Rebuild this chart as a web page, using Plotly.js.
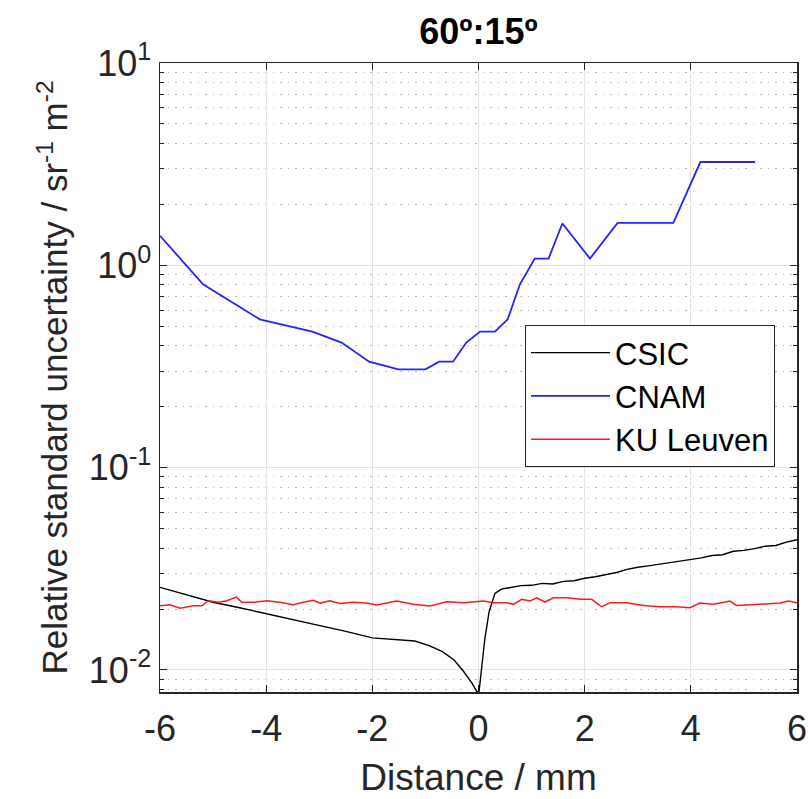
<!DOCTYPE html>
<html><head><meta charset="utf-8">
<script src="https://cdn.plot.ly/plotly-3.0.1.min.js"></script>
<style>html,body{margin:0;padding:0;background:#fff}</style>
</head><body><div id="chart" style="width:808px;height:799px"></div>
<script>
// ---- Data ----
const csicX = [-6, -5.5, -5, -4.5, -4, -3.5, -3, -2.5, -2, -1.66, -1.2, -0.93, -0.68, -0.46, -0.28, -0.12, -0.03, 0.01, 0.06, 0.12, 0.2, 0.31, 0.43, 0.6, 0.8, 1.0, 1.2, 1.4, 1.6, 1.8, 2.0, 2.2, 2.4, 2.6, 2.8, 3.0, 3.2, 3.4, 3.6, 3.8, 4.0, 4.2, 4.4, 4.6, 4.8, 5.0, 5.2, 5.4, 5.6, 5.8, 6.0];
const csicY = [0.0256, 0.0235, 0.0216, 0.0203, 0.0190, 0.0177, 0.01655, 0.0155, 0.0144, 0.01417, 0.0139, 0.01318, 0.01232, 0.0112, 0.00982, 0.00859, 0.0078, 0.0078, 0.0102, 0.0143, 0.0194, 0.0239, 0.0251, 0.0256, 0.0261, 0.0262, 0.0268, 0.0266, 0.0274, 0.0276, 0.0284, 0.0289, 0.0295, 0.0303, 0.0314, 0.0322, 0.0327, 0.0333, 0.0340, 0.0346, 0.0354, 0.0358, 0.0368, 0.0371, 0.0386, 0.0390, 0.0398, 0.0409, 0.0412, 0.0428, 0.0440];

const cnamX = [-6, -5.19, -4.12, -3.13, -2.58, -2.06, -1.51, -1.0, -0.74, -0.48, -0.23, 0.03, 0.31, 0.55, 0.78, 1.06, 1.32, 1.58, 2.10, 2.62, 3.67, 4.18, 5.21];
const cnamY = [1.40, 0.806, 0.541, 0.47, 0.415, 0.334, 0.306, 0.306, 0.334, 0.334, 0.415, 0.47, 0.47, 0.541, 0.806, 1.08, 1.08, 1.61, 1.08, 1.62, 1.62, 3.24, 3.24];

const kuX = [-6, -5.81, -5.62, -5.37, -5.21, -5.09, -4.90, -4.74, -4.56, -4.46, -4.24, -3.99, -3.74, -3.49, -3.30, -3.11, -2.98, -2.80, -2.61, -2.36, -2.11, -1.918, -1.541, -1.227, -0.913, -0.599, -0.285, 0.092, 0.28, 0.405, 0.53, 0.656, 0.813, 0.97, 1.096, 1.253, 1.41, 1.66, 1.912, 2.13, 2.32, 2.48, 2.79, 3.105, 3.42, 3.733, 3.985, 4.17, 4.42, 4.74, 4.86, 5.30, 5.68, 5.84, 6.0];
const kuY = [0.02075, 0.0210, 0.0202, 0.02075, 0.02075, 0.0220, 0.0216, 0.0220, 0.0229, 0.0216, 0.0216, 0.0220, 0.0216, 0.0210, 0.0216, 0.0221, 0.0214, 0.0220, 0.0213, 0.0216, 0.0214, 0.02094, 0.02191, 0.02110, 0.0207, 0.02175, 0.0215, 0.0219, 0.0215, 0.0215, 0.0215, 0.0211, 0.02233, 0.02190, 0.02275, 0.02166, 0.02275, 0.02275, 0.02233, 0.02233, 0.02053, 0.0215, 0.0215, 0.02084, 0.02053, 0.02053, 0.0203, 0.0214, 0.0211, 0.0219, 0.02084, 0.0211, 0.0214, 0.0219, 0.0215];

const xTicks = [-6, -4, -2, 0, 2, 4, 6];
const yTickVals = [0.01, 0.1, 1, 10];
const yTickText = ['10<sup>-2</sup>', '10<sup>-1</sup>', '10<sup>0</sup>', '10<sup>1</sup>'];

// minor log ticks (axis configuration)
const minorVals = [];
for (let k = -3; k <= 0; k++) for (let m = 2; m <= 9; m++) minorVals.push(m * Math.pow(10, k));

const FONT = 'Liberation Sans, Arial, Helvetica, sans-serif';
const TXT = '#262626';

const traces = [
  {x: csicX, y: csicY, name: 'CSIC', type: 'scatter', mode: 'lines', line: {color: '#000000', width: 1.4}},
  {x: cnamX, y: cnamY, name: 'CNAM', type: 'scatter', mode: 'lines', line: {color: '#2323ff', width: 1.8}},
  {x: kuX, y: kuY, name: 'KU Leuven', type: 'scatter', mode: 'lines', line: {color: '#ff1a1a', width: 1.5}}
];

const layout = {
  width: 808, height: 799,
  paper_bgcolor: '#ffffff', plot_bgcolor: '#ffffff',
  margin: {l: 160, r: 11, t: 63, b: 107},
  font: {family: FONT, color: TXT},
  showlegend: true,
  title: {text: '<b>60º:15º</b>', font: {family: FONT, size: 36, color: '#000'},
          xref: 'paper', x: 0.5, xanchor: 'center', yref: 'container', y: 1 - 31/799, yanchor: 'middle'},
  xaxis: {
    range: [-6, 6], tickmode: 'array', tickvals: xTicks, ticktext: xTicks.map(String),
    ticks: 'inside', ticklen: 7, tickwidth: 1, tickcolor: TXT,
    showline: true, linecolor: TXT, linewidth: 1.5, mirror: 'ticks',
    showgrid: true, gridcolor: '#e3e3e3', gridwidth: 1, zeroline: false,
    tickfont: {family: FONT, size: 36, color: TXT}, ticklabelstandoff: 4,
    title: {text: 'Distance / mm', font: {family: FONT, size: 37, color: TXT}, standoff: 16},
    automargin: false
  },
  yaxis: {
    type: 'log', range: [Math.log10(0.00778), 1],
    tickmode: 'array', tickvals: yTickVals, ticktext: yTickText,
    ticks: 'inside', ticklen: 7, tickwidth: 1, tickcolor: TXT,
    showline: true, linecolor: TXT, linewidth: 1.5, mirror: 'ticks',
    showgrid: true, gridcolor: '#e3e3e3', gridwidth: 1, zeroline: false,
    minor: {tickmode: 'array', tickvals: minorVals, ticks: 'inside', ticklen: 4, tickcolor: TXT,
            showgrid: true, gridcolor: '#b8b8b8', gridwidth: 1, griddash: '1.5px,6px'},
    tickfont: {family: FONT, size: 36, color: TXT},
    title: {text: 'Relative standard uncertainty / sr<sup>-1</sup> m<sup>-2</sup>', font: {family: FONT, size: 35, color: TXT}, standoff: 10},
    automargin: false
  },
  legend: {
    x: 0.573, y: 0.5835, xanchor: 'left', yanchor: 'top',
    bgcolor: '#ffffff', bordercolor: TXT, borderwidth: 1,
    font: {family: FONT, size: 31, color: '#000'},
    itemwidth: 79, tracegroupgap: 0
  }
};

Plotly.newPlot('chart', traces, layout, {displayModeBar: false, staticPlot: true});
</script>
</body></html>
